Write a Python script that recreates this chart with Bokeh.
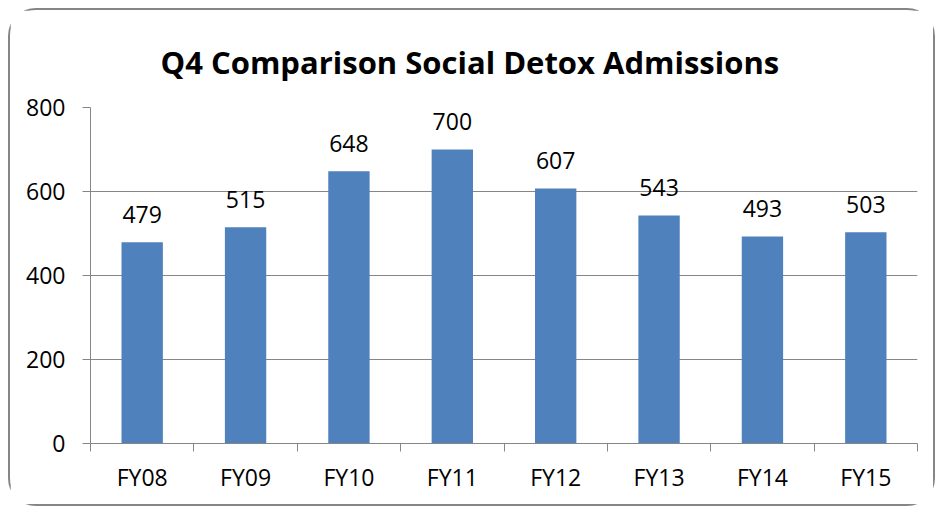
from bokeh.plotting import figure
from bokeh.models import ColumnDataSource, FixedTicker, Range1d, Title
from bokeh.embed import file_html
from bokeh.resources import INLINE
from bokeh.core.properties import value

categories = ["FY08", "FY09", "FY10", "FY11", "FY12", "FY13", "FY14", "FY15"]
admissions = [479, 515, 648, 700, 607, 543, 493, 503]
y_ticks = [0, 200, 400, 600, 800]
title_text = "Q4 Comparison Social Detox Admissions"

positions = list(range(1, len(categories) + 1))
source = ColumnDataSource(dict(
    x=positions,
    y=admissions,
    label=[str(v) for v in admissions],
))

FONT = "Open Sans"
GRAY = "#868686"

p = figure(width=927, height=498, output_backend="svg", toolbar_location=None,
           x_range=Range1d(0.5, len(categories) + 0.5), y_range=Range1d(0, 800),
           min_border_left=80, min_border_right=20, min_border_top=97, min_border_bottom=65)

p.title = Title(text=title_text, align="left", text_font=FONT, text_font_size="31px",
                text_font_style="bold", text_color="black", offset=70, standoff=50)

p.vbar(x="x", top="y", width=0.4, source=source, fill_color="#4F81BD", line_color=None)
p.text(x="x", y="y", text="label", source=source, text_align="center",
       text_baseline="alphabetic", y_offset=-28, text_font=value(FONT),
       text_font_size="23px", text_color="black")

p.outline_line_color = None
p.xgrid.grid_line_color = None
p.ygrid.grid_line_color = GRAY
p.ygrid.grid_line_width = 1
p.ygrid.ticker = FixedTicker(ticks=y_ticks)

ya = p.yaxis[0]
ya.ticker = FixedTicker(ticks=y_ticks)
ya.axis_line_color = GRAY
ya.major_tick_line_color = GRAY
ya.major_tick_out = 8
ya.major_tick_in = 0
ya.minor_tick_line_color = None
ya.major_label_standoff = 17
ya.major_label_text_font = FONT
ya.major_label_text_font_size = "23px"
ya.major_label_text_color = "black"

xa = p.xaxis[0]
xa.ticker = FixedTicker(ticks=positions,
                        minor_ticks=[i + 0.5 for i in range(0, len(categories) + 1)])
xa.major_label_overrides = {pos: cat for pos, cat in zip(positions, categories)}
xa.axis_line_color = GRAY
xa.major_tick_line_color = None
xa.minor_tick_line_color = GRAY
xa.minor_tick_out = 8
xa.minor_tick_in = 0
xa.major_label_standoff = 9
xa.major_label_text_font = FONT
xa.major_label_text_font_size = "23px"
xa.major_label_text_color = "black"

p.styles = {"border": "2px solid #868686", "border-radius": "28px",
            "margin-left": "8px", "margin-top": "8px"}

open("out.html", "w").write(file_html(p, INLINE))
